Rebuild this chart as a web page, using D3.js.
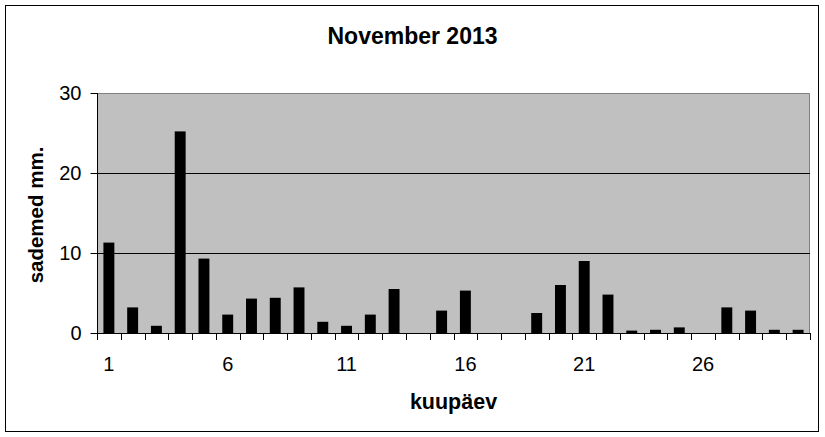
<!DOCTYPE html>
<html>
<head>
<meta charset="utf-8">
<script src="https://cdn.jsdelivr.net/npm/d3@7"></script>
<style>
  html, body { margin: 0; padding: 0; background: #fff; }
  svg { display: block; font-family: "Liberation Sans", Arial, sans-serif; }
</style>
</head>
<body>
<svg id="chart" width="825" height="437"></svg>
<script>
const days = d3.range(1, 31);
const precipitation = [11.3, 3.2, 0.9, 25.2, 9.3, 2.3, 4.3, 4.4, 5.7, 1.4,
                       0.9, 2.3, 5.5, 0, 2.8, 5.3, 0, 0, 2.5, 6.0,
                       9.0, 4.8, 0.3, 0.4, 0.7, 0, 3.2, 2.8, 0.4, 0.4];
const yTicks = [0, 10, 20, 30];
const xLabelDays = [1, 6, 11, 16, 21, 26];
const title = "November 2013";
const xTitle = "kuupäev";
const yTitle = "sademed mm.";

(function () {
const svg = d3.select("#chart");
const pL = 97, pR = 810, pT = 93, pB = 333;

// outer frame
svg.append("rect").attr("x", 5.5).attr("y", 5.5).attr("width", 813).attr("height", 426)
  .attr("fill", "#fff").attr("stroke", "#000").attr("stroke-width", 1);

const x = d3.scaleBand().domain(days).range([pL, pR]).paddingInner(0.54).paddingOuter(0.27);
const y = d3.scaleLinear().domain([0, 30]).range([pB, pT]);

// plot area
svg.append("rect").attr("x", pL).attr("y", pT).attr("width", pR - pL).attr("height", pB - pT)
  .attr("fill", "#C0C0C0");
svg.append("path").attr("d", `M${pL},${pT + 0.5}H${pR - 0.5}V${pB}`)
  .attr("fill", "none").attr("stroke", "#808080").attr("stroke-width", 1);

// gridlines
svg.append("g").selectAll("line").data(yTicks.filter(t => t > 0 && t < 30)).join("line")
  .attr("x1", pL).attr("x2", pR)
  .attr("y1", d => Math.round(y(d)) + 0.5).attr("y2", d => Math.round(y(d)) + 0.5)
  .attr("stroke", "#000").attr("stroke-width", 1);

// bars
svg.append("g").selectAll("rect").data(days).join("rect")
  .attr("x", d => x(d)).attr("width", x.bandwidth())
  .attr("y", (d, i) => y(precipitation[i]))
  .attr("height", (d, i) => y(0) - y(precipitation[i]))
  .attr("fill", "#000");

// y axis
const yAxis = d3.axisLeft(y).tickValues(yTicks).tickSize(7).tickPadding(9);
const gy = svg.append("g").attr("transform", `translate(${pL + 0.5},0)`).call(yAxis);
gy.select(".domain").attr("d", `M0,${pT}V${pB}`).attr("stroke", "#000");
gy.selectAll(".tick line").attr("stroke", "#000");
gy.selectAll(".tick text").attr("font-size", 20).attr("font-family", "Liberation Sans, Arial, sans-serif").attr("fill", "#000");

// x axis line + boundary ticks
const boundaries = days.map(d => x(d) - (x.step() - x.bandwidth()) / 2).concat([pR]);
const gx = svg.append("g");
gx.append("line").attr("x1", pL).attr("x2", pR).attr("y1", pB + 0.5).attr("y2", pB + 0.5)
  .attr("stroke", "#000");
gx.selectAll("line.t").data(boundaries).join("line").attr("class", "t")
  .attr("x1", d => Math.round(d) + 0.5).attr("x2", d => Math.round(d) + 0.5)
  .attr("y1", pB).attr("y2", pB + 7).attr("stroke", "#000");

// x labels via axis
const xAxis = d3.axisBottom(x).tickValues(xLabelDays).tickSize(0).tickPadding(0);
const gxl = svg.append("g").attr("transform", `translate(0,${pB + 24})`).call(xAxis);
gxl.select(".domain").remove();
gxl.selectAll(".tick text").attr("font-size", 20).attr("font-family", "Liberation Sans, Arial, sans-serif").attr("fill", "#000").attr("dy", "0.71em");

// titles
svg.append("text").attr("x", 412.5).attr("y", 44).attr("text-anchor", "middle")
  .attr("font-size", 23).attr("font-weight", "bold").text(title);
svg.append("text").attr("x", (pL + pR) / 2).attr("y", 409).attr("text-anchor", "middle")
  .attr("font-size", 21.5).attr("font-weight", "bold").text(xTitle);
svg.append("text").attr("transform", `translate(43,${(pT + pB) / 2 + 2}) rotate(-90)`)
  .attr("text-anchor", "middle").attr("font-size", 20.5).attr("font-weight", "bold").text(yTitle);
})();
</script>
</body>
</html>
